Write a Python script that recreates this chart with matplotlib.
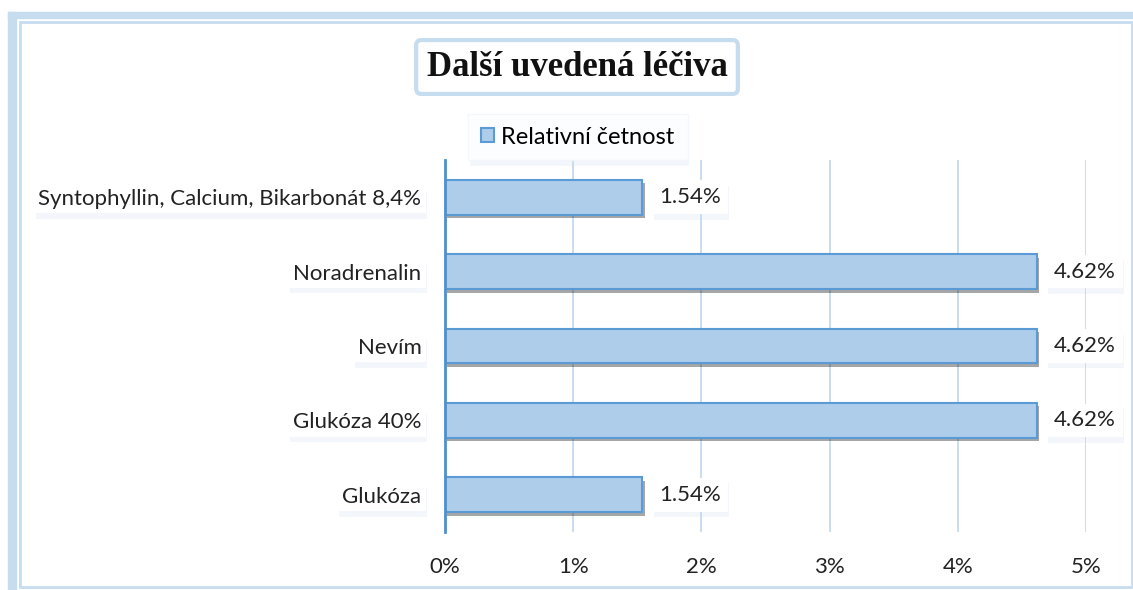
import matplotlib.pyplot as plt
import matplotlib.patheffects as pe
from matplotlib.patches import Rectangle
from matplotlib.ticker import FuncFormatter

categories = ['Glukóza', 'Glukóza 40%', 'Nevím', 'Noradrenalin',
              'Syntophyllin, Calcium, Bikarbonát 8,4%']
values = [1.54, 4.62, 4.62, 4.62, 1.54]
value_labels = ['1.54%', '4.62%', '4.62%', '4.62%', '1.54%']

BAR_FILL = '#AECDEA'
BAR_EDGE = '#5B9BD5'
GRID = '#BDD7EE'
FRAME = '#C6DCEF'


def glow(patch):
    patch.set_path_effects([pe.SimplePatchShadow(offset=(1, -4), shadow_rgbFace='#C9DDF1',
                                                 alpha=0.22), pe.Normal()])


def main():
    plt.rcParams['font.family'] = ['Lato', 'DejaVu Sans']
    fig = plt.figure(figsize=(11.33, 5.9), dpi=100)

    # frame of the chart area
    fig.patches.append(Rectangle((8 / 1133, 572 / 590), 1.0, 6 / 590,
                                 transform=fig.transFigure, color=FRAME, zorder=0))
    fig.patches.append(Rectangle((8 / 1133, 0), 8 / 1133, 578 / 590,
                                 transform=fig.transFigure, color=FRAME, zorder=0))
    fig.patches.append(Rectangle((20 / 1133, 3 / 590), 1112 / 1133, 565 / 590,
                                 transform=fig.transFigure, fill=False,
                                 edgecolor=FRAME, lw=2, zorder=0))

    ax = fig.add_axes([445 / 1133, 58 / 590, 641 / 1133, 372 / 590])
    y = range(len(categories))
    bars = ax.barh(y, values, height=0.47, color=BAR_FILL, edgecolor=BAR_EDGE,
                   linewidth=1.5, zorder=3, label='Relativní četnost')
    for b in bars:
        b.set_path_effects([pe.SimplePatchShadow(offset=(1.5, -2.5), shadow_rgbFace='k',
                                                 alpha=0.35), pe.Normal()])

    for i, (v, lab) in enumerate(zip(values, value_labels)):
        t = ax.text(v + 0.13, i, lab, va='center', ha='left', fontsize=16,
                    color='#222222', zorder=4,
                    bbox=dict(facecolor='white', edgecolor='none', pad=5))
        glow(t.get_bbox_patch())

    ax.set_xlim(0, 5)
    ax.set_ylim(-0.5, len(categories) - 0.5)
    ax.set_xticks([0, 1, 2, 3, 4, 5])
    ax.xaxis.set_major_formatter(FuncFormatter(lambda x, p: f'{x:.0f}%'))
    ax.set_yticks(list(y))
    ax.set_yticklabels(categories)
    ax.tick_params(axis='both', length=0, labelsize=16, labelcolor='#222222')
    ax.tick_params(axis='y', pad=17)
    ax.tick_params(axis='x', pad=18)
    for t in ax.get_yticklabels():
        t.set_bbox(dict(facecolor='white', edgecolor='none', pad=3))
        glow(t.get_bbox_patch())
    ax.grid(axis='x', color=GRID, lw=1.2, zorder=0)
    for s in ['top', 'right', 'bottom']:
        ax.spines[s].set_visible(False)
    ax.spines['left'].set_color('#4F8FCB')
    ax.spines['left'].set_linewidth(2)
    ax.spines['left'].set_zorder(5)

    fig.text(577 / 1133, 1 - 67 / 590, 'Další uvedená léčiva', ha='center',
             va='center', fontsize=25, fontweight='bold',
             family='Liberation Serif', color='#111111',
             bbox=dict(boxstyle='round,pad=0.3,rounding_size=0.15',
                       facecolor='white', edgecolor=FRAME, lw=3))

    leg = ax.legend(loc='center', bbox_to_anchor=(578 / 1133, 1 - 137 / 590),
                    bbox_transform=fig.transFigure, fontsize=17, frameon=True,
                    fancybox=False, handlelength=0.55, handleheight=0.55,
                    handletextpad=0.3, borderpad=0.55, borderaxespad=0)
    leg.get_frame().set_edgecolor('#F2F6FA')
    glow(leg.get_frame())
    for h in leg.legend_handles:
        h.set_path_effects([])

    fig.savefig('out.png', dpi=100)


if __name__ == '__main__':
    main()
